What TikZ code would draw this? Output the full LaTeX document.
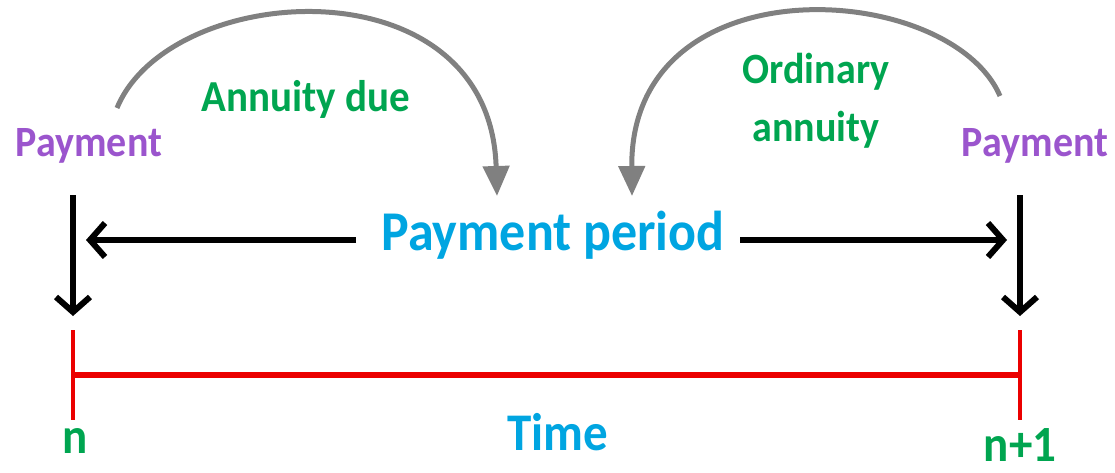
\documentclass[tikz,border=0pt]{standalone}
\usepackage{fontspec}
\usepackage{graphicx}
\setmainfont{Carlito}
\usetikzlibrary{arrows.meta}
\definecolor{cpurple}{RGB}{155,85,205}
\definecolor{cgreen}{RGB}{0,165,80}
\definecolor{cblue}{RGB}{0,165,225}
\definecolor{cred}{RGB}{235,0,0}
\definecolor{cgray}{RGB}{128,128,128}
\newcommand\tallt[1]{\scalebox{1}[1.08]{#1}}
\tikzset{
  lbl/.style={inner sep=0pt, anchor=base, font=\bfseries\fontsize{40}{50}\selectfont},
  paylbl/.style={lbl, text=cpurple},
  grnlbl/.style={lbl, text=cgreen, align=center},
  arcarrow/.style={draw=cgray, line width=5pt, -{Triangle[length=30pt,width=26pt]}},
  blkarrow/.style={draw=black, line width=6pt, -{Straight Barb[length=15pt,width=34pt,line width=6pt]}},
  redline/.style={draw=cred, line width=6pt},
  redtick/.style={draw=cred, line width=4pt},
}
\begin{document}
\begin{tikzpicture}[x=1pt,y=-1pt]
\useasboundingbox (0,0) rectangle (1115,473);
% labels
\node[paylbl] (payL) at (89,157) {\tallt{Payment}};
\node[paylbl] (payR) at (1035,157) {\tallt{Payment}};
\node[grnlbl, font=\bfseries\fontsize{41}{50}\selectfont] (due) at (306,112) {\tallt{Annuity due}};
\node[grnlbl, font=\bfseries\fontsize{40}{58}\selectfont, anchor=center] (ord) at (816,101) {\tallt{Ordinary}\\\tallt{annuity}};
\node[lbl, text=cblue, font=\bfseries\fontsize{52}{56}\selectfont] (pp) at (553,250) {\tallt{Payment period}};
\node[lbl, text=cblue, font=\bfseries\fontsize{49}{56}\selectfont] (time) at (558,450) {\tallt{Time}};
\node[lbl, text=cgreen, font=\bfseries\fontsize{47}{56}\selectfont] (n) at (75,453) {\tallt{n}};
\node[lbl, text=cgreen, font=\bfseries\fontsize{47}{56}\selectfont] (n1) at (1020,461) {\tallt{n+1}};
% coordinates
\coordinate (aL0) at (117,108);
\coordinate (aL1) at (497,196);
\coordinate (aR0) at (1000,96);
\coordinate (aR1) at (632,196);
\coordinate (vL0) at (73,195);
\coordinate (vL1) at (73,316);
\coordinate (vR0) at (1020,195);
\coordinate (vR1) at (1020,316);
\coordinate (hL0) at (356,240);
\coordinate (hL1) at (86,240);
\coordinate (hR0) at (740,240);
\coordinate (hR1) at (1007,240);
\coordinate (tL) at (73,375);
\coordinate (tR) at (1020,375);
% arcs
\draw[arcarrow] (aL0) .. controls (170,-20) and (490,-40) .. (aL1);
\draw[arcarrow] (aR0) .. controls (950,-20) and (630,-40) .. (aR1);
% black arrows
\draw[blkarrow] (vL0) -- (vL1);
\draw[blkarrow] (vR0) -- (vR1);
\draw[blkarrow] (hL0) -- (hL1);
\draw[blkarrow] (hR0) -- (hR1);
% timeline
\draw[redline] (tL) -- (tR);
\draw[redtick] (73,330) -- (73,420);
\draw[redtick] (1020,330) -- (1020,420);
\end{tikzpicture}
\end{document}
